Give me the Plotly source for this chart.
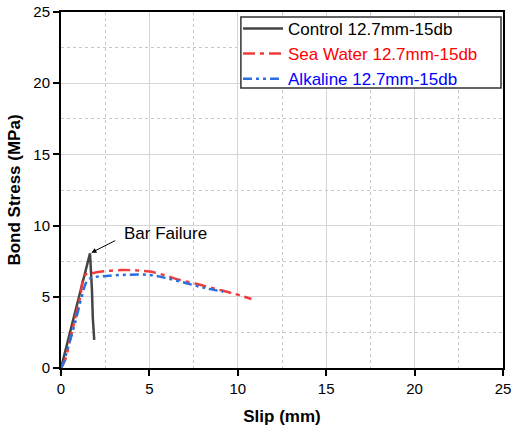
import plotly.graph_objects as go

# Data
ctrl_x = [0.0, 0.4, 0.8, 1.2, 1.64, 1.70, 1.75, 1.80, 1.88]
ctrl_y = [0.0, 1.9, 3.9, 5.9, 8.05, 7.0, 5.5, 3.5, 1.97]

sea_x = [0.0, 0.23, 0.6, 1.07, 1.36, 1.73, 2.5, 3.43, 4.3, 5.03, 5.9, 6.72, 7.7, 8.6, 9.7, 10.77]
sea_y = [0.0, 0.56, 2.45, 4.9, 6.53, 6.65, 6.8, 6.88, 6.85, 6.77, 6.5, 6.18, 5.9, 5.6, 5.25, 4.85]

alk_x = [0.0, 0.13, 0.41, 0.79, 1.17, 1.45, 1.73, 2.58, 3.8, 5.03, 6.0, 7.1, 8.2, 9.17]
alk_y = [0.0, 0.33, 1.5, 3.15, 5.0, 6.06, 6.34, 6.46, 6.55, 6.53, 6.3, 5.95, 5.6, 5.36]

names = ["Control 12.7mm-15db", "Sea Water 12.7mm-15db", "Alkaline 12.7mm-15db"]
name_colors = ["black", "red", "blue"]

x_ticks = [0, 5, 10, 15, 20, 25]
y_ticks = [0, 5, 10, 15, 20, 25]

annot_text = "Bar Failure"
annot_point = (1.72, 8.1)
annot_tail = (3.15, 9.0)
annot_text_pos = (3.45, 9.45)

fig = go.Figure()
fig.add_trace(go.Scatter(x=ctrl_x, y=ctrl_y, mode="lines",
                         name=f"<span style='color:{name_colors[0]}'>{names[0]}</span>",
                         line=dict(color="#444444", width=2.5)))
fig.add_trace(go.Scatter(x=sea_x, y=sea_y, mode="lines",
                         name=f"<span style='color:{name_colors[1]}'>{names[1]}</span>",
                         line=dict(color="#f03c3c", width=2.5, dash="12px,5px,4px,5px"),
                         line_shape="spline"))
fig.add_trace(go.Scatter(x=alk_x, y=alk_y, mode="lines",
                         name=f"<span style='color:{name_colors[2]}'>{names[2]}</span>",
                         line=dict(color="#2a6fe0", width=2.5, dash="9px,4px,3px,4px,3px,4px"),
                         line_shape="spline"))

fig.add_annotation(x=annot_point[0], y=annot_point[1], ax=annot_tail[0], ay=annot_tail[1],
                   axref="x", ayref="y", showarrow=True, arrowhead=2, arrowsize=1, arrowwidth=1,
                   arrowcolor="black", text="", standoff=0)
fig.add_annotation(x=annot_text_pos[0], y=annot_text_pos[1], text=annot_text, showarrow=False,
                   xanchor="left", yanchor="middle",
                   font=dict(size=17, color="black"))

# legend frame
fig.add_shape(type="rect", xref="paper", yref="paper", x0=0.407, x1=0.9955, y0=0.7865, y1=0.986,
              line=dict(color="#333333", width=1.5), fillcolor="white", layer="above")

axis_common = dict(
    showline=True, linecolor="black", linewidth=2, mirror=True,
    ticks="outside", ticklen=6, tickwidth=2, tickcolor="black",
    showgrid=True, gridcolor="#d6d6d6", gridwidth=1,
    minor=dict(showgrid=True, gridcolor="#c8c8c8", griddash="dot", gridwidth=1, dtick=2.5, ticks=""),
    zeroline=False, automargin=False,
    tickfont=dict(size=15, color="black", family="Liberation Sans, Arial"),
)

fig.update_xaxes(range=[0, 25], tickvals=x_ticks, ticktext=[str(v) for v in x_ticks],
                 title=dict(text="<b>Slip (mm)</b>", font=dict(size=17, color="black"), standoff=14),
                 **axis_common)
fig.update_yaxes(range=[0, 25], tickvals=y_ticks, ticktext=[str(v) for v in y_ticks],
                 title=dict(text="<b>Bond Stress (MPa)</b>", font=dict(size=17, color="black"), standoff=8),
                 **axis_common)

fig.update_layout(
    width=513, height=432,
    margin=dict(l=61, r=10, t=12, b=64, autoexpand=False),
    paper_bgcolor="white", plot_bgcolor="white",
    font=dict(family="Liberation Sans, Arial", color="black"),
    legend=dict(x=0.4005, y=1.003, xanchor="left", yanchor="top",
                bgcolor="rgba(0,0,0,0)", borderwidth=0,
                font=dict(size=17), tracegroupgap=0, itemwidth=40),
    showlegend=True,
)

fig.write_html("out.html", config={"displayModeBar": False},
               post_script="document.body.style.margin='0px';document.body.style.overflow='hidden';")
